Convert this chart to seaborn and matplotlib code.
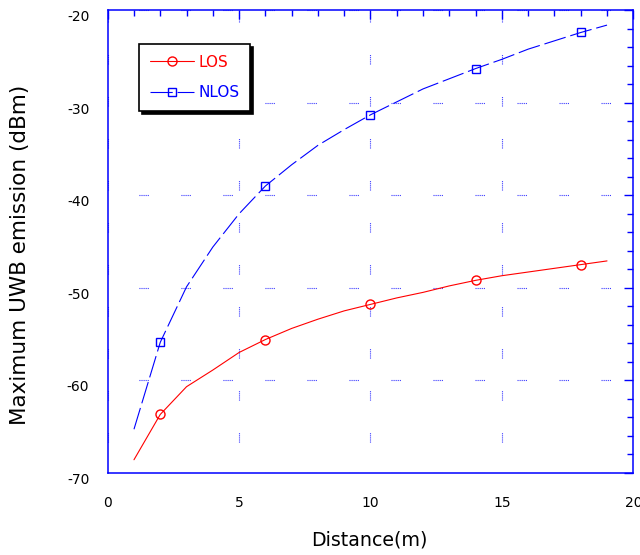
import matplotlib
matplotlib.use("Agg")
import matplotlib.pyplot as plt
from matplotlib.ticker import MultipleLocator
import seaborn as sns
import pandas as pd

# ---- data ----
distance = [1, 2, 3, 4, 5, 6, 7, 8, 9, 10, 11, 12, 13, 14, 15, 16, 17, 18, 19]
los = [-68.6, -63.7, -60.7, -58.9, -57.0, -55.6, -54.4, -53.4, -52.5, -51.8,
       -51.1, -50.5, -49.8, -49.2, -48.7, -48.3, -47.9, -47.5, -47.1]
nlos = [-65.3, -55.9, -49.9, -45.6, -42.0, -39.0, -36.7, -34.6, -32.9, -31.3,
        -29.9, -28.5, -27.4, -26.3, -25.3, -24.2, -23.3, -22.4, -21.6]
marker_idx = [1, 5, 9, 13, 17]
series_names = ["LOS", "NLOS"]
x_ticks = [0, 5, 10, 15, 20]
y_ticks = [-70, -60, -50, -40, -30, -20]
x_label = "Distance(m)"
y_label = "Maximum UWB emission (dBm)"

sns.set_theme(style="white")
plt.rcParams["font.family"] = ["DejaVu Sans"]
plt.rcParams["lines.scale_dashes"] = False
plt.rcParams["axes.unicode_minus"] = False

df = pd.DataFrame({"distance": distance, "LOS": los, "NLOS": nlos})

fig = plt.figure(figsize=(6.4, 5.55), dpi=100)
ax = fig.add_axes([107.7 / 640, (555 - 472.7) / 555, 525.6 / 640, 462.4 / 555])

blue = "#0000ff"
red = "#ff0000"

sns.lineplot(data=df, x="distance", y="LOS", ax=ax, color=red, lw=0.8,
             marker="o", markevery=marker_idx, ms=6.5, mfc="none", mec=red,
             mew=1.0, label=series_names[0], estimator=None)
sns.lineplot(data=df, x="distance", y="NLOS", ax=ax, color=blue, lw=0.8,
             linestyle=(0, (16, 3.5)), marker="s", markevery=marker_idx, ms=6,
             mfc="none", mec=blue, mew=1.0, label=series_names[1], estimator=None)

ax.set_xlim(0, 20)
ax.set_ylim(-70, -20)
ax.set_xticks(x_ticks)
ax.set_yticks(y_ticks)
ax.xaxis.set_minor_locator(MultipleLocator(1))
ax.yaxis.set_minor_locator(MultipleLocator(2))

for s in ax.spines.values():
    s.set_color(blue)
    s.set_linewidth(1.1)

ax.tick_params(which="both", direction="in", top=True, right=True,
               color=blue, width=1.0, labelcolor="black", labelsize=10)
ax.tick_params(which="major", length=6.5)
ax.tick_params(which="minor", length=4)
ax.tick_params(axis="x", which="major", pad=16.5)
ax.tick_params(axis="y", which="major", pad=13.2)
for lbl in ax.get_yticklabels():
    lbl.set_va("top")

grid_ls = (8, [0.75, 0.75] * 4 + [0.75, 23.5])
ax.grid(True, which="major", color="#3030ff", linestyle=grid_ls, lw=0.8)

ax.set_xlabel(x_label, fontsize=13.7, color="black")
ax.set_ylabel(y_label, fontsize=15.5, color="black")
ax.xaxis.set_label_coords(0.498, -0.124)
ax.yaxis.set_label_coords(-0.147, 0.471)

leg = ax.legend(loc="upper left", bbox_to_anchor=(0.0596, 0.927),
                borderaxespad=0, frameon=True, fancybox=False,
                shadow={"facecolor": "black", "edgecolor": "black", "alpha": 1,
                        "ox": 2.2, "oy": -2.2},
                edgecolor="black", facecolor="white", framealpha=1,
                fontsize=11, handlelength=2.9, handletextpad=0.3,
                borderpad=0.7, labelspacing=1.0, labelcolor="linecolor")
leg.get_frame().set_linewidth(1.2)

fig.savefig("out.png", dpi=100)
